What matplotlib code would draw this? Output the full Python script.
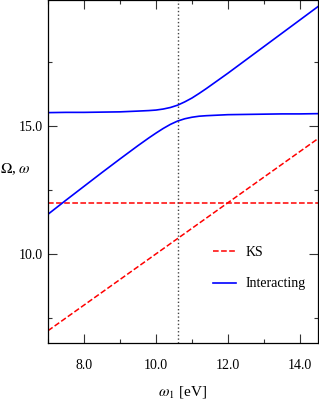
import matplotlib
matplotlib.use("Agg")
import matplotlib.pyplot as plt
from matplotlib.ticker import MultipleLocator, FormatStrFormatter

# KS (non-interacting) frequencies
ks_x = [7.0, 14.5]
ks_diag = [7.0, 14.5]
ks_flat = [12.0, 12.0]

# interacting frequencies (two branches, avoided crossing)
w1 = [7.0, 7.5, 8.0, 8.5, 9.0, 9.5, 9.8, 10.0, 10.2, 10.4, 10.6, 10.8,
      11.0, 11.2, 11.4, 11.7, 12.0, 12.5, 13.0, 13.5, 14.0, 14.5]
upper = [15.52, 15.53, 15.53, 15.54, 15.55, 15.58, 15.60, 15.62, 15.66,
         15.72, 15.81, 15.94, 16.09, 16.27, 16.46, 16.76, 17.06, 17.58,
         18.10, 18.62, 19.14, 19.66]
lower = [11.55, 12.10, 12.64, 13.18, 13.71, 14.23, 14.53, 14.72, 14.90,
         15.06, 15.19, 15.28, 15.34, 15.38, 15.40, 15.42, 15.44, 15.45,
         15.46, 15.47, 15.47, 15.48]
w1_mark = 10.6

plt.rcParams['font.family'] = 'serif'
plt.rcParams['font.serif'] = ['Liberation Serif', 'DejaVu Serif']
plt.rcParams['mathtext.fontset'] = 'stix'

fig = plt.figure(figsize=(3.19, 4.04), dpi=100)
ax = fig.add_axes([0.1505, 0.151, 0.846, 0.849])

ax.plot(ks_x, ks_diag, color='red', ls='--', lw=1.1, label='KS')
ax.plot(ks_x, ks_flat, color='red', ls='--', lw=1.1)
ax.plot(w1, upper, color='blue', lw=1.2, label='Interacting')
ax.plot(w1, lower, color='blue', lw=1.2)
ax.axvline(w1_mark, color='#444444', ls=':', lw=1.0)

ax.set_xlim(7.0, 14.5)
ax.set_ylim(6.52, 19.92)
ax.xaxis.set_major_locator(MultipleLocator(2.0))
ax.xaxis.set_minor_locator(MultipleLocator(1.0))
ax.yaxis.set_major_locator(MultipleLocator(5.0))
ax.yaxis.set_minor_locator(MultipleLocator(2.5))
ax.xaxis.set_major_formatter(FormatStrFormatter('%.1f'))
ax.yaxis.set_major_formatter(FormatStrFormatter('%.1f'))
ax.tick_params(which='both', direction='in', top=True, right=True,
               labelsize=10, width=0.8, color='#333333')
ax.tick_params(which='major', length=6.5)
ax.tick_params(which='minor', length=3.0)
ax.tick_params(axis='x', which='major', pad=11.5)
ax.tick_params(axis='y', which='major', pad=3.5)
for s in ax.spines.values():
    s.set_linewidth(0.9)

ax.set_xlabel(r'$\omega_1$ [eV]', fontsize=11, labelpad=8.5)
ax.set_ylabel(r'$\Omega$, $\omega$', fontsize=11, rotation=0,
              ha='center', va='center')
ax.yaxis.set_label_coords(-0.121, 0.507)

ax.legend(loc='lower right', frameon=False, fontsize=10, handlelength=1.6,
          handletextpad=0.7, labelspacing=1.3,
          bbox_to_anchor=(1.0, 0.117))

fig.savefig('out.png', dpi=100)
